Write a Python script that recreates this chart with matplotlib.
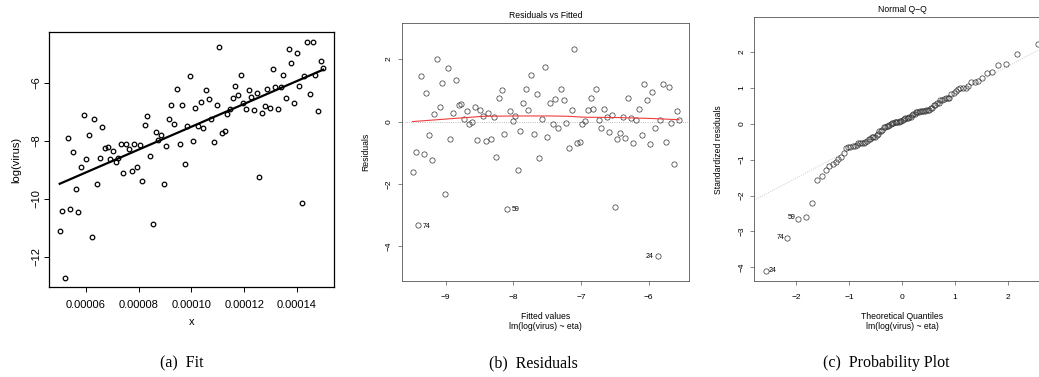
import numpy as np
import matplotlib
matplotlib.use("Agg")
import matplotlib.pyplot as plt
from statistics import NormalDist

plt.rcParams['font.family'] = ['Liberation Sans', 'DejaVu Sans']

# eta values (x), in units of 1e-6
eta_e6 = [50.0, 51.0, 52.0, 53.0, 54.0, 55.1, 56.1, 57.1, 58.1, 59.1,
          60.1, 61.1, 62.1, 63.1, 64.1, 65.2, 66.2, 67.2, 68.2, 69.2,
          70.2, 71.2, 72.2, 73.2, 74.2, 75.3, 76.3, 77.3, 78.3, 79.3,
          80.3, 81.3, 82.3, 83.3, 84.3, 85.4, 86.4, 87.4, 88.4, 89.4,
          90.4, 91.4, 92.4, 93.4, 94.4, 95.5, 96.5, 97.5, 98.5, 99.5,
          100.5, 101.5, 102.5, 103.5, 104.5, 105.6, 106.6, 107.6, 108.6, 109.6,
          110.6, 111.6, 112.6, 113.6, 114.6, 115.7, 116.7, 117.7, 118.7, 119.7,
          120.7, 121.7, 122.7, 123.7, 124.7, 125.8, 126.8, 127.8, 128.8, 129.8,
          130.8, 131.8, 132.8, 133.8, 134.8, 135.9, 136.9, 137.9, 138.9, 139.9,
          140.9, 141.9, 142.9, 143.9, 144.9, 146.0, 147.0, 148.0, 149.0, 150.0]

# log(virus)
log_virus = [-11.11, -10.42, -12.72, -7.90, -10.36, -8.38, -9.68, -10.45, -8.91, -7.11,
             -8.63, -7.81, -11.32, -7.25, -9.50, -8.61, -7.52, -8.26, -8.21, -8.64,
             -8.36, -8.74, -8.61, -8.10, -9.11, -8.12, -8.28, -9.03, -8.10, -8.90,
             -8.14, -9.38, -7.47, -7.16, -8.52, -10.88, -7.70, -7.98, -7.79, -9.48,
             -8.19, -7.25, -6.77, -7.41, -6.23, -8.10, -6.77, -8.79, -7.50, -5.78,
             -8.00, -6.86, -7.50, -6.66, -7.56, -6.26, -6.55, -7.26, -8.03, -6.77,
             -4.77, -7.74, -7.68, -7.07, -6.92, -6.52, -6.11, -6.41, -5.73, -6.69,
             -6.91, -6.26, -6.48, -6.93, -6.34, -9.25, -7.03, -6.80, -6.23, -6.87,
             -5.54, -6.16, -6.91, -6.15, -5.74, -6.54, -4.85, -5.33, -6.70, -4.99,
             -6.10, -10.16, -5.78, -4.59, -6.39, -4.61, -5.72, -6.98, -5.26, -5.50]

# observation labels shown by R for the three largest residuals
outlier_idx = [91, 35, 2]
outlier_lab = ['24', '59', '74']

# red smoother in residuals vs fitted
smooth_fit = [-9.49, -8.94, -8.44, -7.95, -7.45, -7.20, -6.95, -6.47, -5.97, -5.55]
smooth_res = [0.00, 0.09, 0.17, 0.18, 0.18, 0.17, 0.14, 0.13, 0.10, 0.06]

x_ticks = [0.00006, 0.00008, 0.00010, 0.00012, 0.00014]
x_ticklabels = ['0.00006', '0.00008', '0.00010', '0.00012', '0.00014']

captions = ['(a)  Fit', '(b)  Residuals', '(c)  Probability Plot']

x = np.array(eta_e6) * 1e-6
y = np.array(log_virus)
n = len(x)

# linear fit lm(log(virus) ~ eta)
b, a = np.polyfit(x, y, 1)
fitted = a + b * x
resid = y - fitted
s = np.sqrt(np.sum(resid ** 2) / (n - 2))
h = 1 / n + (x - x.mean()) ** 2 / np.sum((x - x.mean()) ** 2)
std_res = resid / (s * np.sqrt(1 - h))

order = np.argsort(std_res)
nd = NormalDist()
theo = np.array([nd.inv_cdf((i + 0.5) / n) for i in range(n)])
theo_of = np.empty(n)
theo_of[order] = theo

fig = plt.figure(figsize=(10.39, 3.77), dpi=100)


def rot_yticks(ax):
    for t in ax.get_yticklabels():
        t.set_rotation(90)
        t.set_va('center')


# ---------- (a) Fit ----------
ax1 = fig.add_axes([0.0475, 0.2379, 0.2737, 0.6764])
ax1.plot(x, y, 'o', mfc='none', mec='black', ms=3.3, mew=0.9)
ax1.plot(x, fitted, 'k-', lw=1.6)
ax1.set_xlim(4.607e-5, 1.540e-4)
ax1.set_ylim(-13.055, -4.26)
ax1.set_xticks(x_ticks)
ax1.set_xticklabels(x_ticklabels)
ax1.set_yticks([-12, -10, -8, -6])
ax1.tick_params(labelsize=8, length=3.5, width=0.7)
ax1.tick_params(axis='x', pad=5.4)
ax1.tick_params(axis='y', pad=2.5)
rot_yticks(ax1)
ax1.set_xlabel('x', fontsize=8, labelpad=5)
ax1.set_ylabel('log(virus)', fontsize=8, labelpad=7)
for sp in ax1.spines.values():
    sp.set_linewidth(0.9)

gray = '#555555'

# ---------- (b) Residuals vs Fitted ----------
ax2 = fig.add_axes([0.3866, 0.2546, 0.2768, 0.6836])
ax2.axhline(0, color='#aaaaaa', lw=0.6, ls=':')
ax2.plot(fitted, resid, 'o', mfc='none', mec='#333333', ms=3.8, mew=0.5)
ax2.plot(smooth_fit, smooth_res, color='#f03c3c', lw=0.8)
ax2.set_xlim(-9.65, -5.40)
ax2.set_ylim(-5.11, 3.15)
ax2.set_xticks([-9, -8, -7, -6])
ax2.set_yticks([-4, -2, 0, 2])
ax2.tick_params(labelsize=6, length=3, width=0.5, color=gray)
ax2.tick_params(axis='x', pad=6)
ax2.tick_params(axis='y', pad=3.5)
rot_yticks(ax2)
ax2.set_title('Residuals vs Fitted', fontsize=6.2, pad=4)
ax2.set_xlabel('Fitted values\nlm(log(virus) ~ eta)', fontsize=6.2, labelpad=8,
               linespacing=1.2)
ax2.set_ylabel('Residuals', fontsize=6.2, labelpad=11)
for sp in ax2.spines.values():
    sp.set_linewidth(0.6)
    sp.set_color(gray)
for i, lab in zip(outlier_idx, outlier_lab):
    if fitted[i] > -7.5:
        ax2.annotate(lab, (fitted[i], resid[i]), xytext=(-3, -1),
                     textcoords='offset points', ha='right', va='center', fontsize=5)
    else:
        ax2.annotate(lab, (fitted[i], resid[i]), xytext=(3, -1),
                     textcoords='offset points', ha='left', va='center', fontsize=5)

# ---------- (c) Normal Q-Q ----------
ax3 = fig.add_axes([0.7260, 0.2546, 0.2843, 0.6995])
q1, q3 = np.percentile(std_res, [25, 75])
z1, z3 = nd.inv_cdf(0.25), nd.inv_cdf(0.75)
slope = (q3 - q1) / (z3 - z1)
inter = q1 - slope * z1
ax3.axline((0, inter), slope=slope, color='#bbbbbb', lw=0.6, ls=':')
ax3.plot(theo_of, std_res, 'o', mfc='none', mec='#333333', ms=3.8, mew=0.5)
ax3.set_xlim(-2.79, 2.79)
ax3.set_ylim(-4.38, 2.96)
ax3.set_xticks([-2, -1, 0, 1, 2])
ax3.set_yticks([-4, -3, -2, -1, 0, 1, 2])
ax3.tick_params(labelsize=6, length=3, width=0.5, color=gray)
ax3.tick_params(axis='x', pad=6)
ax3.tick_params(axis='y', pad=3.5)
rot_yticks(ax3)
ax3.set_title('Normal Q\u2212Q', fontsize=6.2, pad=4)
ax3.set_xlabel('Theoretical Quantiles\nlm(log(virus) ~ eta)', fontsize=6.2, labelpad=8,
               linespacing=1.2)
ax3.set_ylabel('Standardized residuals', fontsize=6.2, labelpad=11)
for sp in ax3.spines.values():
    sp.set_linewidth(0.6)
    sp.set_color(gray)
for i, lab in zip(outlier_idx, outlier_lab):
    if lab == '24':
        ax3.annotate(lab, (theo_of[i], std_res[i]), xytext=(2, 0.5),
                     textcoords='offset points', ha='left', va='center', fontsize=5)
    else:
        ax3.annotate(lab, (theo_of[i], std_res[i]), xytext=(-2, 0.5),
                     textcoords='offset points', ha='right', va='center', fontsize=5)

# ---------- captions ----------
cap_x = [181.7 / 1039, 533 / 1039, 886.7 / 1039]
for cx, cap in zip(cap_x, captions):
    fig.text(cx, 0.037, cap, ha='center', va='center', fontsize=11.5,
             family='Liberation Serif')

fig.savefig('out.png', dpi=100)
